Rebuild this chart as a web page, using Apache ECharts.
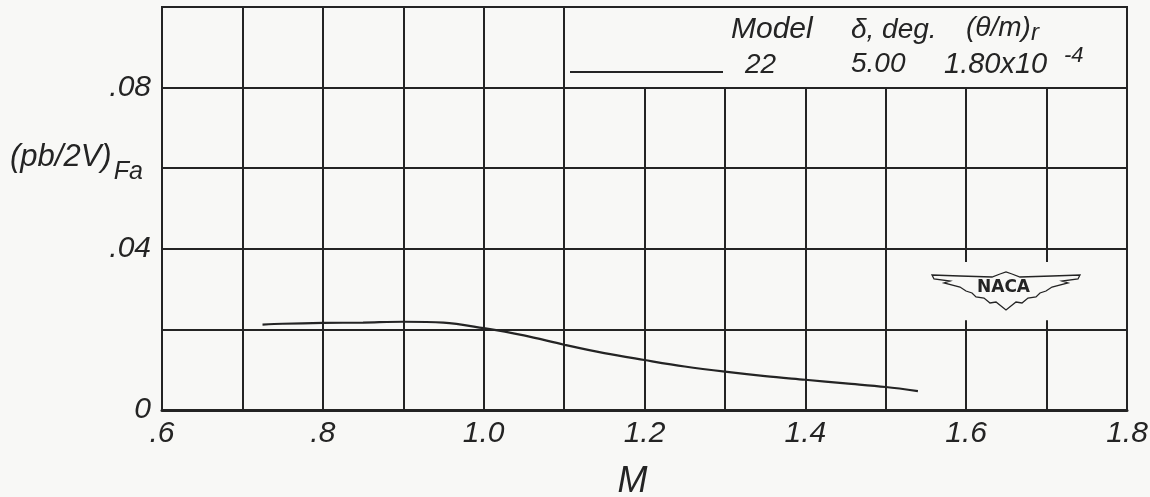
<!DOCTYPE html>
<html>
<head>
<meta charset="utf-8">
<script src="https://cdn.jsdelivr.net/npm/echarts@6/dist/echarts.min.js"></script>
<style>
html,body{margin:0;padding:0;background:#f8f8f6;}
#chart{width:1150px;height:497px;}
</style>
</head>
<body>
<div id="chart"></div>
<script>
// ---- data ----
const machNumbers = [0.725, 0.75, 0.8, 0.85, 0.9, 0.95, 1.0, 1.05, 1.1, 1.15, 1.2, 1.25, 1.3, 1.35, 1.4, 1.45, 1.5, 1.54];
const pbValues    = [0.0212, 0.0214, 0.0216, 0.0217, 0.0219, 0.0217, 0.0203, 0.0185, 0.0162, 0.0141, 0.0124, 0.0108, 0.0095, 0.0084, 0.0075, 0.0066, 0.0057, 0.0047];
const xTickLabels = {6: '.6', 8: '.8', 10: '1.0', 12: '1.2', 14: '1.4', 16: '1.6', 18: '1.8'};
const yTickLabels = {0: '0', 4: '.04', 8: '.08'};
// vertical grid segments
const vGridFull  = [0.7, 0.8, 0.9, 1.0, 1.1];
const vGridLower = [1.2, 1.3, 1.4, 1.5];
const vGridBroken = [1.6, 1.7];
const legendModel = '22', legendDelta = '5.00', legendRatio = '1.80x10', legendExp = '-4';

const ink = '#242424';
const font = '"Liberation Sans", Arial, sans-serif';

const segs = [];
vGridFull.forEach(m => segs.push([m, 0, 0.1]));
vGridLower.forEach(m => segs.push([m, 0, 0.08]));
vGridBroken.forEach(m => { segs.push([m, 0, 0.0223]); segs.push([m, 0.0367, 0.08]); });

const chart = echarts.init(document.getElementById('chart'), null, {renderer: 'canvas'});
chart.setOption({
  backgroundColor: '#f8f8f6',
  animation: false,
  grid: {left: 162, right: 23, top: 7, bottom: 87, containLabel: false, outerBoundsMode: 'none',
         show: true, borderColor: ink, borderWidth: 2},
  xAxis: {
    type: 'value', min: 0.6, max: 1.8, interval: 0.1,
    name: 'M', nameLocation: 'middle', nameGap: 54,
    nameTextStyle: {fontFamily: font, fontStyle: 'italic', fontSize: 36, color: ink, padding: [0, 24, 0, 0]},
    axisLine: {show: true, lineStyle: {color: ink, width: 3}},
    axisTick: {show: false},
    splitLine: {show: false},
    axisLabel: {
      margin: 9, fontFamily: font, fontStyle: 'italic', fontSize: 30, color: ink,
      formatter: v => xTickLabels[Math.round(v * 10)] || ''
    }
  },
  yAxis: {
    type: 'value', min: 0, max: 0.1, interval: 0.02,
    axisLine: {show: true, lineStyle: {color: ink, width: 2}},
    axisTick: {show: false},
    splitLine: {show: true, lineStyle: {color: ink, width: 2}},
    axisLabel: {
      margin: 11, fontFamily: font, fontStyle: 'italic', fontSize: 30, color: ink,
      formatter: v => yTickLabels[Math.round(v * 100)] || ''
    }
  },
  series: [
    {
      type: 'line', data: [], silent: true,
      markLine: {
        silent: true, symbol: 'none', label: {show: false},
        lineStyle: {color: ink, width: 2, type: 'solid'},
        data: segs.map(s => [{coord: [s[0], s[1]]}, {coord: [s[0], s[2]]}])
      }
    },
    {
      type: 'line', smooth: 0.35, showSymbol: false, silent: true,
      lineStyle: {color: ink, width: 2.2},
      data: machNumbers.map((m, i) => [m, pbValues[i]]),
      z: 5
    }
  ],
  graphic: [
    {type: 'text', left: 10, top: 142, style: {
      text: '{a|(pb/2V)}{b|Fa}', fill: ink,
      rich: {
        a: {fontFamily: font, fontStyle: 'italic', fontSize: 31, fill: ink},
        b: {fontFamily: font, fontStyle: 'italic', fontSize: 25, fill: ink, padding: [30, 0, 0, 2]}
      }
    }},
    // legend
    {type: 'text', left: 731, top: 15, style: {text: 'Model', fontFamily: font, fontStyle: 'italic', fontSize: 30, fill: ink}},
    {type: 'text', left: 851, top: 16, style: {text: 'δ, deg.', fontFamily: font, fontStyle: 'italic', fontSize: 28, fill: ink}},
    {type: 'text', left: 966, top: 14, style: {
      text: '{a|(θ/m)}{b|r}',
      rich: {
        a: {fontFamily: font, fontStyle: 'italic', fontSize: 28, fill: ink},
        b: {fontFamily: font, fontStyle: 'italic', fontSize: 24, fill: ink, padding: [10, 0, 0, 0]}
      }
    }},
    {type: 'line', shape: {x1: 570, y1: 72, x2: 723, y2: 72}, style: {stroke: ink, lineWidth: 2}},
    {type: 'text', left: 745, top: 51, style: {text: legendModel, fontFamily: font, fontStyle: 'italic', fontSize: 28, fill: ink}},
    {type: 'text', left: 851, top: 50, style: {text: legendDelta, fontFamily: font, fontStyle: 'italic', fontSize: 28, fill: ink}},
    {type: 'text', left: 944, top: 50, style: {text: legendRatio, fontFamily: font, fontStyle: 'italic', fontSize: 29, fill: ink}},
    {type: 'text', left: 1064, top: 45, style: {text: legendExp, fontFamily: font, fontStyle: 'italic', fontSize: 22, fill: ink}},
    // NACA logo
    {type: 'polygon', shape: {points: [
      [932, 275], [960, 276], [992, 277], [1000, 274], [1006, 272], [1012, 274], [1020, 277], [1052, 276], [1080, 275],
      [1078, 279], [1062, 281], [1068, 283], [1052, 287], [1046, 291], [1040, 293], [1036, 297], [1028, 298], [1022, 303], [1016, 302], [1006, 310],
      [996, 302], [990, 303], [984, 298], [976, 297], [972, 293], [966, 291], [960, 287], [944, 283], [950, 281], [934, 279]
    ]}, style: {fill: '#f8f8f6', stroke: ink, lineWidth: 1.3}, z: 10},
    {type: 'text', left: 977, top: 279, style: {text: 'NACA', fontFamily: '"DejaVu Sans", sans-serif', fontSize: 17, fontWeight: 'bold', fill: ink}, z: 11}
  ]
});
</script>
</body>
</html>
